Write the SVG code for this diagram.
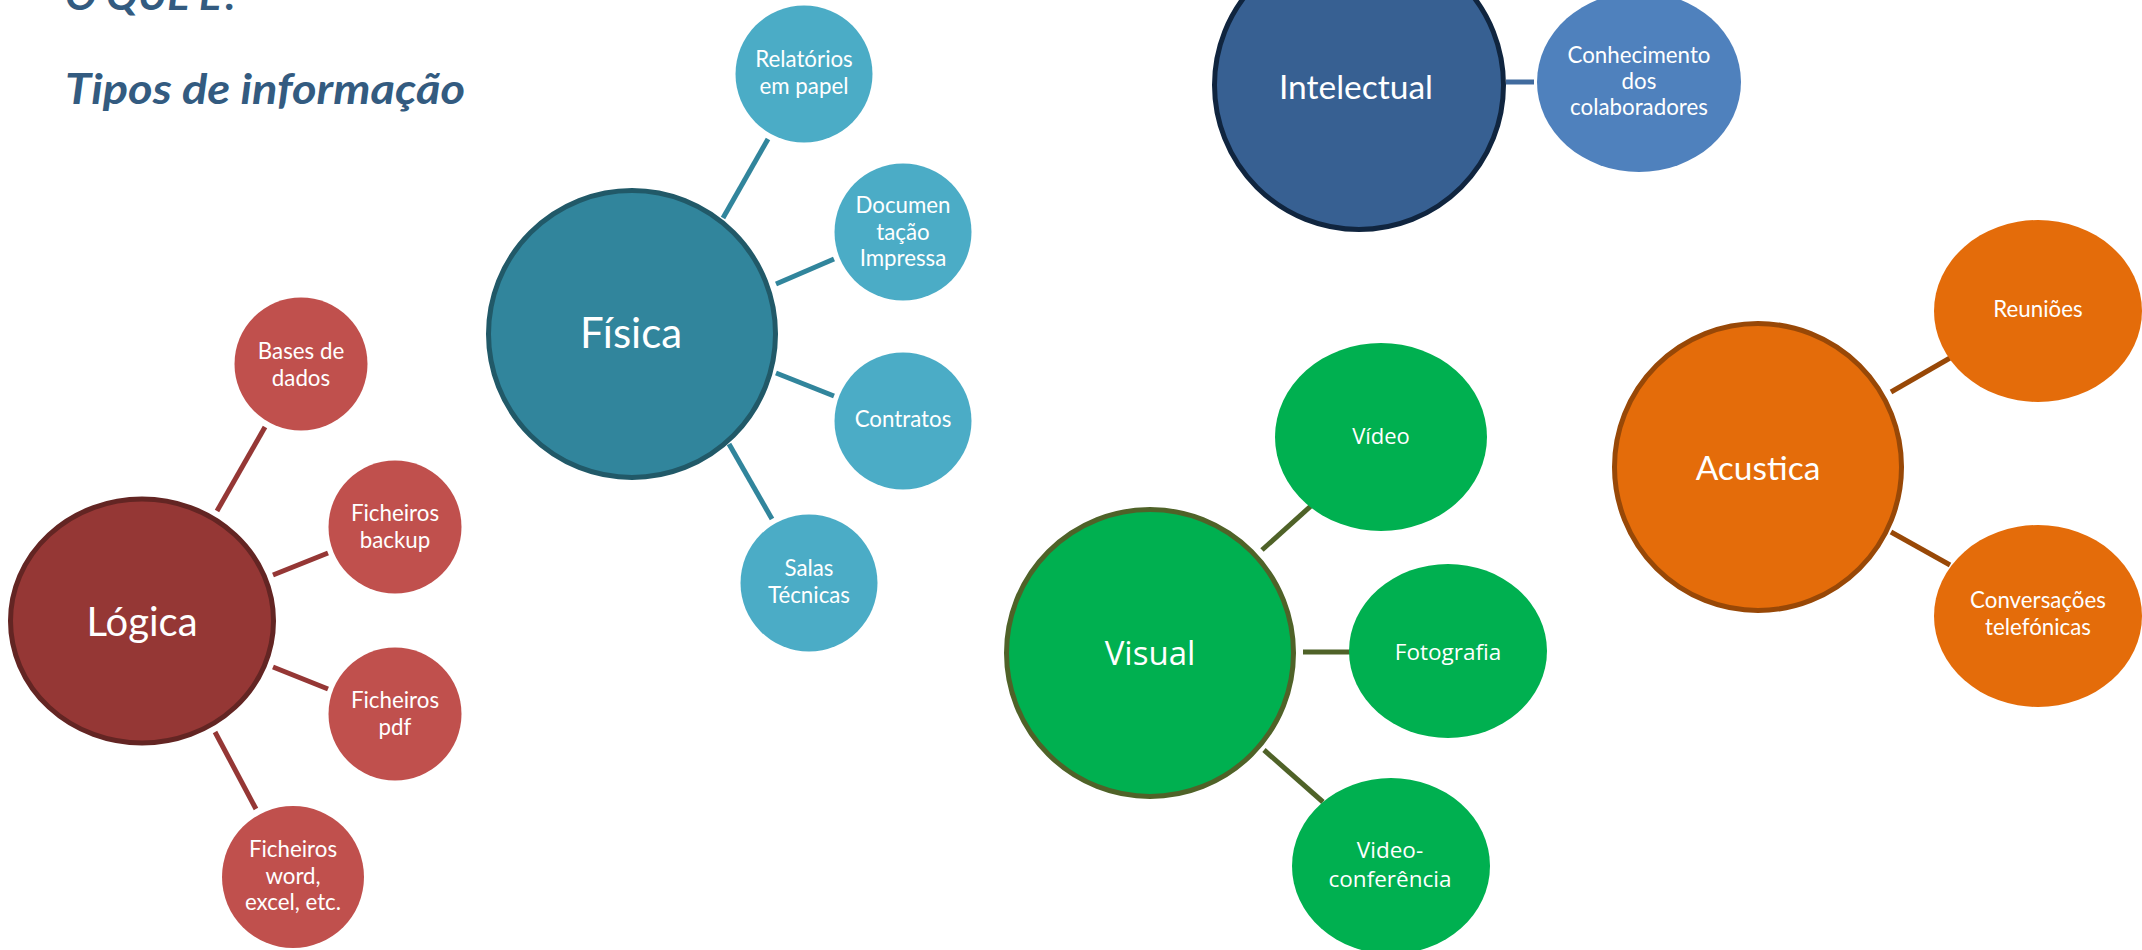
<svg xmlns="http://www.w3.org/2000/svg" width="2142" height="950" viewBox="0 0 2142 950">
<style>
.title{font-family:"Lato","Liberation Sans",sans-serif;font-weight:bold;font-style:italic;fill:#335b80;font-size:42px}
.big{font-family:"Lato","Liberation Sans",sans-serif;fill:#fff;text-anchor:middle}
.small{font-family:"Lato","Liberation Sans",sans-serif;fill:#fff;text-anchor:middle;font-size:22.3px}
.os{font-family:"Open Sans","Liberation Sans",sans-serif;fill:#fff;text-anchor:middle}
.conn line{stroke-width:5}
</style>
<rect width="2142" height="950" fill="#fff"/>
<text class="title" x="65" y="10" textLength="175" lengthAdjust="spacingAndGlyphs">O QUE É?</text>
<text class="title" x="65" y="104" textLength="400" lengthAdjust="spacingAndGlyphs">Tipos de informação</text>
<g id="connectors" class="conn">
<g stroke="#31859c">
<line x1="723" y1="218" x2="768" y2="139"/>
<line x1="776" y1="284" x2="834" y2="259"/>
<line x1="776" y1="373" x2="834" y2="396"/>
<line x1="729" y1="444" x2="772" y2="519"/>
</g>
<g stroke="#953735">
<line x1="217" y1="511" x2="265" y2="427"/>
<line x1="273" y1="575" x2="328" y2="553"/>
<line x1="273" y1="667" x2="328" y2="689"/>
<line x1="215" y1="732" x2="256" y2="809"/>
</g>
<g stroke="#416b9e">
<line x1="1506" y1="82" x2="1534" y2="82"/>
</g>
<g stroke="#4f6228">
<line x1="1262" y1="550" x2="1312" y2="505"/>
<line x1="1303" y1="652" x2="1350" y2="652"/>
<line x1="1264" y1="750" x2="1323" y2="802"/>
</g>
<g stroke="#984807">
<line x1="1891" y1="392" x2="1950" y2="358"/>
<line x1="1891" y1="532" x2="1950" y2="565"/>
</g>
</g>
<g id="fisica">
<circle cx="632" cy="334" r="143.5" fill="#31859c" stroke="#215968" stroke-width="5"/>
<text class="big" x="631" y="348" font-size="42">Física</text>
</g>
<g id="relatorios"><circle cx="804" cy="74" r="68.5" fill="#4bacc6"/>
<text class="small" x="804" y="67">Relatórios</text><text class="small" x="804" y="94">em papel</text></g>
<g id="documentacao"><circle cx="903" cy="232" r="68.5" fill="#4bacc6"/>
<text class="small" x="903" y="213">Documen</text><text class="small" x="903" y="240">tação</text><text class="small" x="903" y="266">Impressa</text></g>
<g id="contratos"><circle cx="903" cy="421" r="68.5" fill="#4bacc6"/>
<text class="small" x="903" y="427">Contratos</text></g>
<g id="salas"><circle cx="809" cy="583" r="68.5" fill="#4bacc6"/>
<text class="small" x="809" y="576">Salas</text><text class="small" x="809" y="603">Técnicas</text></g>

<g id="logica">
<ellipse cx="142" cy="621" rx="131.5" ry="122" fill="#953735" stroke="#632523" stroke-width="5"/>
<text class="big" x="142" y="636" font-size="40">Lógica</text>
</g>
<g id="bases"><circle cx="301" cy="364" r="66.5" fill="#c0504d"/>
<text class="small" x="301" y="359">Bases de</text><text class="small" x="301" y="386">dados</text></g>
<g id="backup"><circle cx="395" cy="527" r="66.5" fill="#c0504d"/>
<text class="small" x="395" y="521">Ficheiros</text><text class="small" x="395" y="548">backup</text></g>
<g id="pdf"><circle cx="395" cy="714" r="66.5" fill="#c0504d"/>
<text class="small" x="395" y="708">Ficheiros</text><text class="small" x="395" y="735">pdf</text></g>
<g id="word"><circle cx="293" cy="877" r="71" fill="#c0504d"/>
<text class="small" x="293" y="857">Ficheiros</text><text class="small" x="293" y="884">word,</text><text class="small" x="293" y="910">excel, etc.</text></g>

<g id="intelectual">
<circle cx="1359" cy="85" r="144.5" fill="#376092" stroke="#10253f" stroke-width="5"/>
<text class="big" x="1356" y="99" font-size="33.5">Intelectual</text>
</g>
<g id="conhecimento"><ellipse cx="1639" cy="82" rx="102" ry="90" fill="#4f81bd"/>
<text class="small" x="1639" y="63">Conhecimento</text><text class="small" x="1639" y="89">dos</text><text class="small" x="1639" y="115">colaboradores</text></g>

<g id="visual">
<circle cx="1150" cy="653" r="143.5" fill="#00b050" stroke="#4f6228" stroke-width="5"/>
<text class="os" x="1150" y="665" font-size="33">Visual</text>
</g>
<g id="video"><ellipse cx="1381" cy="437" rx="106" ry="94" fill="#00b050"/>
<text class="os" x="1381" y="444" font-size="22">Vídeo</text></g>
<g id="fotografia"><ellipse cx="1448" cy="651" rx="99" ry="87" fill="#00b050"/>
<text class="os" x="1448" y="660" font-size="22.5">Fotografia</text></g>
<g id="videoconferencia"><ellipse cx="1391" cy="866" rx="99" ry="88" fill="#00b050"/>
<text class="os" x="1390" y="858" font-size="22.5">Video-</text><text class="os" x="1390" y="887" font-size="22.5">conferência</text></g>

<g id="acustica">
<circle cx="1758" cy="467" r="143.5" fill="#e46c0a" stroke="#984807" stroke-width="5"/>
<text class="big" x="1758" y="480" font-size="33.5">Acustica</text>
</g>
<g id="reunioes"><ellipse cx="2038" cy="311" rx="104" ry="91" fill="#e46c0a"/>
<text class="small" x="2038" y="317">Reuniões</text></g>
<g id="conversacoes"><ellipse cx="2038" cy="616" rx="104" ry="91" fill="#e46c0a"/>
<text class="small" x="2038" y="608">Conversações</text><text class="small" x="2038" y="635">telefónicas</text></g>
</svg>
